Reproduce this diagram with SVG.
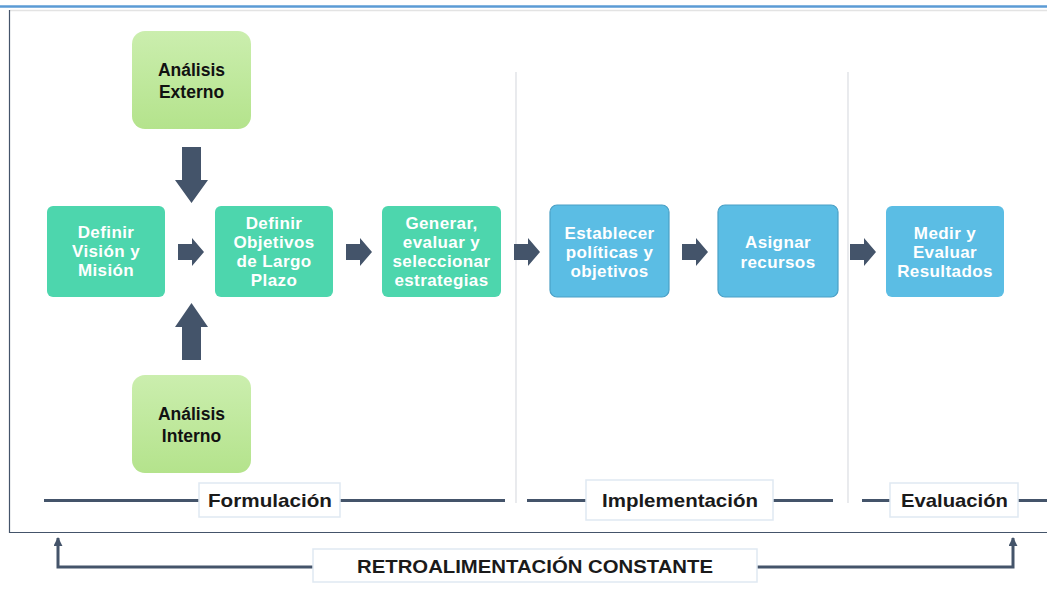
<svg xmlns="http://www.w3.org/2000/svg" width="1047" height="590" viewBox="0 0 1047 590">
<defs>
<linearGradient id="lg" x1="0" y1="0" x2="0" y2="1"><stop offset="0" stop-color="#cbeeae"/><stop offset="1" stop-color="#b4e38c"/></linearGradient>
<marker id="ah" viewBox="0 0 10 10" refX="9" refY="5" markerWidth="3" markerHeight="3" orient="auto"><path d="M0,0 L10,5 L0,10 z" fill="#44546a"/></marker>
</defs>
<style>
.teal{fill:#4dd6ad}
.blue{fill:#5bbde4}
.bb{stroke:#4aa0c6;stroke-width:1.2}
.lgreen{fill:url(#lg)}
.wt{font-family:"Liberation Sans",Arial,sans-serif;font-weight:bold;font-size:17px;letter-spacing:0.4px;fill:#fff;text-anchor:middle}
.bt{font-family:"Liberation Sans",Arial,sans-serif;font-weight:bold;font-size:17.5px;fill:#111;text-anchor:middle}
.lab{font-family:"Liberation Sans",Arial,sans-serif;font-weight:bold;font-size:18.5px;fill:#1a1a1a}
.arr{fill:#44546a}
.ln{stroke:#44546a;stroke-width:3;fill:none}
.sep{stroke:#dadde2;stroke-width:1.2}
.lbox{fill:#fff;stroke:#dfe9f2;stroke-width:1.5}
</style>
<rect width="1047" height="590" fill="#fff"/>
<line x1="0" y1="6.5" x2="1047" y2="6.5" stroke="#5b9bd5" stroke-width="2.5"/>
<line x1="10" y1="10.5" x2="1047" y2="10.5" stroke="#e3e3e3" stroke-width="1.5"/>
<path d="M9.5,10 V532.5 H1047" fill="none" stroke="#44546a" stroke-width="1.2"/>
<line class="sep" x1="516" y1="72" x2="516" y2="503"/>
<line class="sep" x1="848" y1="72" x2="848" y2="503"/>
<g id="connectors">
<path class="arr" d="M182,147 H201 V180 H208 L191.5,203 L175,180 H182 Z"/>
<path class="arr" d="M182,360 H201 V327 H208 L191.5,303 L175,327 H182 Z"/>
<path class="arr" d="M178,244 H192 V238 L204,252 L192,266 V260 H178 Z"/>
<path class="arr" d="M346,244 H360 V238 L372,252 L360,266 V260 H346 Z"/>
<path class="arr" d="M514,244 H528 V238 L540,252 L528,266 V260 H514 Z"/>
<path class="arr" d="M682,244 H696 V238 L708,252 L696,266 V260 H682 Z"/>
<path class="arr" d="M850,244 H864 V238 L876,252 L864,266 V260 H850 Z"/>
<path class="ln" d="M313,567 H58 V538" marker-end="url(#ah)"/>
<path class="ln" d="M757,567 H1013 V538" marker-end="url(#ah)"/>
<line class="ln" x1="44" y1="500.5" x2="199" y2="500.5"/>
<line class="ln" x1="340" y1="500.5" x2="505" y2="500.5"/>
<line class="ln" x1="527" y1="500.5" x2="586" y2="500.5"/>
<line class="ln" x1="773" y1="500.5" x2="833" y2="500.5"/>
<line class="ln" x1="862" y1="500.5" x2="890" y2="500.5"/>
<line class="ln" x1="1018" y1="500.5" x2="1047" y2="500.5"/>
</g>
<g id="n-externo"><rect class="lgreen" x="132" y="31" width="119" height="98" rx="13"/><text class="bt" x="191.5" y="76">Análisis</text><text class="bt" x="191.5" y="98">Externo</text></g>
<g id="n-interno"><rect class="lgreen" x="132" y="375" width="119" height="98" rx="13"/><text class="bt" x="191.5" y="420">Análisis</text><text class="bt" x="191.5" y="442">Interno</text></g>
<g id="n-vision"><rect class="teal" x="47" y="206" width="118" height="91" rx="6"/><text class="wt" x="106" y="238">Definir</text><text class="wt" x="106" y="257">Visión y</text><text class="wt" x="106" y="276">Misión</text></g>
<g id="n-objetivos"><rect class="teal" x="215" y="206" width="118" height="91" rx="6"/><text class="wt" x="274" y="229">Definir</text><text class="wt" x="274" y="248">Objetivos</text><text class="wt" x="274" y="267">de Largo</text><text class="wt" x="274" y="286">Plazo</text></g>
<g id="n-generar"><rect class="teal" x="382" y="206" width="119" height="91" rx="6"/><text class="wt" x="441.5" y="229">Generar,</text><text class="wt" x="441.5" y="248">evaluar y</text><text class="wt" x="441.5" y="267">seleccionar</text><text class="wt" x="441.5" y="286">estrategias</text></g>
<g id="n-establecer"><rect class="blue bb" x="550" y="205" width="119" height="92" rx="7"/><text class="wt" x="609.5" y="239">Establecer</text><text class="wt" x="609.5" y="258">políticas y</text><text class="wt" x="609.5" y="277">objetivos</text></g>
<g id="n-asignar"><rect class="blue bb" x="718" y="205" width="120" height="92" rx="7"/><text class="wt" x="778" y="248">Asignar</text><text class="wt" x="778" y="268">recursos</text></g>
<g id="n-medir"><rect class="blue" x="886" y="206" width="118" height="91" rx="6"/><text class="wt" x="945" y="239">Medir y</text><text class="wt" x="945" y="258">Evaluar</text><text class="wt" x="945" y="277">Resultados</text></g>
<g id="l-formulacion"><rect class="lbox" x="199" y="483" width="141" height="34"/><text class="lab" x="208" y="507" textLength="124" lengthAdjust="spacingAndGlyphs">Formulación</text></g>
<g id="l-implementacion"><rect class="lbox" x="586" y="480" width="187" height="40"/><text class="lab" x="602" y="507" textLength="156" lengthAdjust="spacingAndGlyphs">Implementación</text></g>
<g id="l-evaluacion"><rect class="lbox" x="890" y="483" width="128" height="34"/><text class="lab" x="901" y="507" textLength="107" lengthAdjust="spacingAndGlyphs">Evaluación</text></g>
<g id="l-retro"><rect class="lbox" x="313" y="549" width="444" height="33"/><text class="lab" x="357" y="573" textLength="356" lengthAdjust="spacingAndGlyphs">RETROALIMENTACIÓN CONSTANTE</text></g>
</svg>
